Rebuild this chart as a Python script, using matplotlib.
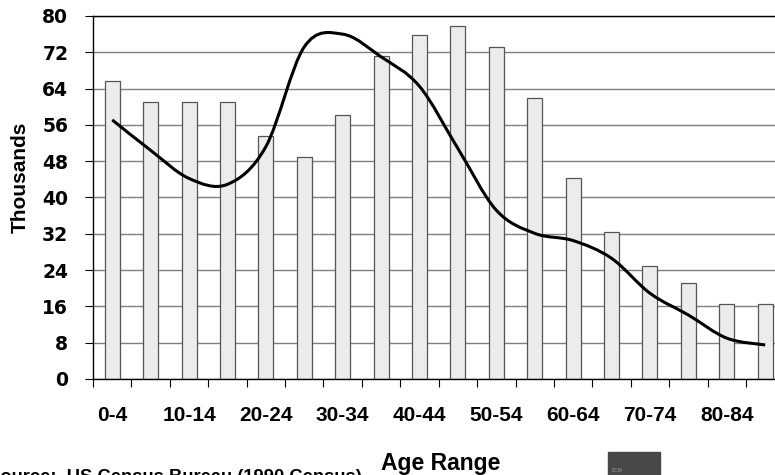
import numpy as np
import matplotlib
matplotlib.use('Agg')
import matplotlib.pyplot as plt
from matplotlib.path import Path
from matplotlib.patches import PathPatch, Rectangle

# population by age group (thousands), 1990 census
age_groups = ['0-4', '5-9', '10-14', '15-19', '20-24', '25-29', '30-34', '35-39',
              '40-44', '45-49', '50-54', '55-59', '60-64', '65-69', '70-74',
              '75-79', '80-84', '85+']
bar_values = [65.7, 61.1, 61.1, 61.1, 53.6, 49.0, 58.2, 71.2, 75.8, 77.8,
              73.1, 61.9, 44.4, 32.3, 25.0, 21.2, 16.6, 16.6]
trend_values = [57.1, 50.4, 44.2, 42.9, 51.2, 73.2, 76.0, 71.0, 64.5, 50.8,
                37.2, 32.1, 30.5, 26.6, 18.9, 14.1, 9.0, 7.5]
y_ticks = [0, 8, 16, 24, 32, 40, 48, 56, 64, 72, 80]

FONT = 'Liberation Sans'

fig = plt.figure(figsize=(7.75, 4.75), dpi=100)
ax = fig.add_axes([93 / 775, 1 - 379 / 475, (784.4 - 93) / 775, (379 - 16) / 475])

x = np.arange(len(age_groups))
ax.bar(x, bar_values, width=0.39, color='#ececec', edgecolor='#555555',
       linewidth=0.9, zorder=2)

# smoothed line (Catmull-Rom style bezier, like Excel's smoothed line)
pts = np.column_stack([x, trend_values]).astype(float)
n = len(pts)
verts = [pts[0]]
codes = [Path.MOVETO]
for i in range(n - 1):
    p0 = pts[i - 1] if i > 0 else pts[i]
    p1 = pts[i]
    p2 = pts[i + 1]
    p3 = pts[i + 2] if i + 2 < n else pts[i + 1]
    verts += [p1 + (p2 - p0) / 6, p2 - (p3 - p1) / 6, p2]
    codes += [Path.CURVE4] * 3
ax.add_patch(PathPatch(Path(verts, codes), fill=False, lw=2.2,
                       edgecolor='black', zorder=3, capstyle='butt'))

ax.set_xlim(-0.5, len(age_groups) - 0.5)
ax.set_ylim(0, 80)

ax.set_axisbelow(True)
ax.yaxis.grid(True, color='#7f7f7f', lw=1.0)

for side in ['left', 'bottom', 'top']:
    ax.spines[side].set_color('black')
    ax.spines[side].set_linewidth(1.0)
ax.spines['right'].set_visible(False)

ax.set_yticks(y_ticks)
ax.set_yticklabels([str(v) for v in y_ticks], fontsize=13.5,
                   fontweight='bold', family='DejaVu Sans')
ax.tick_params(axis='y', direction='out', length=5.8, width=0.8, pad=12)

ax.set_xticks(np.arange(-0.5, len(age_groups), 1))
ax.set_xticklabels([])
ax.tick_params(axis='x', which='major', direction='out', length=5.8, width=0.8)
ax.set_xticks(x[::2], minor=True)
ax.set_xticklabels(age_groups[::2], minor=True, fontsize=15,
                   fontweight='bold', family=FONT)
ax.tick_params(axis='x', which='minor', length=0, pad=19.5)

fig.text(19.8 / 775, 1 - 177.5 / 475, 'Thousands', rotation=90, ha='center',
         va='center', fontsize=15, fontweight='bold', family=FONT)
fig.text(441 / 775, 1 - 470 / 475, 'Age Range', ha='center', va='baseline',
         fontsize=16.5, fontweight='bold', family=FONT)
fig.text(362 / 775, 1 - 482 / 475, 'Source:  US Census Bureau (1990 Census)',
         ha='right', va='baseline', fontsize=13.2, fontweight='bold', family=FONT)

# little logo box at bottom right
fig.patches.append(Rectangle((608 / 775, 0), 52 / 775, 23 / 475,
                             transform=fig.transFigure, color='#474747'))
fig.text(612 / 775, 1 - 472 / 475, 'BCM', fontsize=3.5, color='#9a9a9a',
         family=FONT)

fig.savefig('out.png', dpi=100)
